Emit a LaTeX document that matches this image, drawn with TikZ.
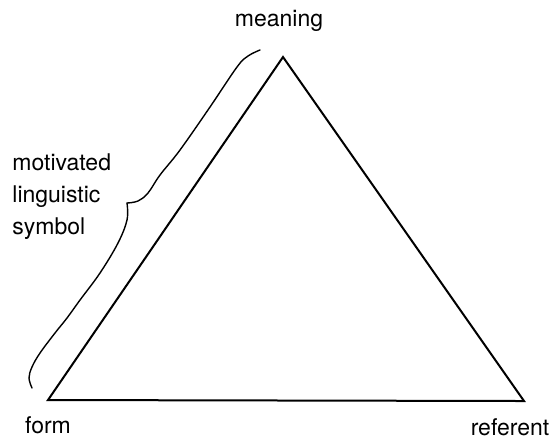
\documentclass[tikz,border=0pt]{standalone}
\usepackage{fontspec}
\setmainfont{TeX Gyre Heros}
\usetikzlibrary{positioning}

\begin{document}
\begin{tikzpicture}[
    x=0.5pt, y=-0.5pt,
    labelStyle/.style={font=\fontsize{11.5}{16}\selectfont, inner sep=0pt},
    sideStyle/.style={draw=black, line width=1pt, line join=miter},
    braceStyle/.style={draw=black, line width=0.7pt, line cap=round, line join=round}
]
    \useasboundingbox (0,0) rectangle (555,441);

    % Corners of the triangle
    \coordinate (meaningPt) at (283,57);
    \coordinate (formPt) at (48,400);
    \coordinate (referentPt) at (524,401);

    % Triangle
    \draw[sideStyle] (meaningPt) -- (formPt) -- (referentPt) -- cycle;

    % Labels
    \node[labelStyle] (meaning) at (279,21) {meaning};
    \node[labelStyle] (form) at (48,425) {form};
    \node[labelStyle] (referent) at (510,427) {referent};
    \node[labelStyle, align=left, anchor=west] (symbol) at (12,197) {motivated\\linguistic\\symbol};

    % Hand-drawn brace along the left side
    \coordinate (braceTip) at (127,203);
    \draw[braceStyle] plot[smooth, tension=0.6] coordinates {(260,50) (248,56) (237,67) (210,107) (180,150) (160,175) (148,193) (138,201) (127,203)};
    \draw[braceStyle] plot[smooth, tension=0.6] coordinates {(127,203) (127,220) (118,243) (100,273) (80,300) (67,318) (55,333) (40,353) (32,367) (29,378) (32,388)};
\end{tikzpicture}
\end{document}
